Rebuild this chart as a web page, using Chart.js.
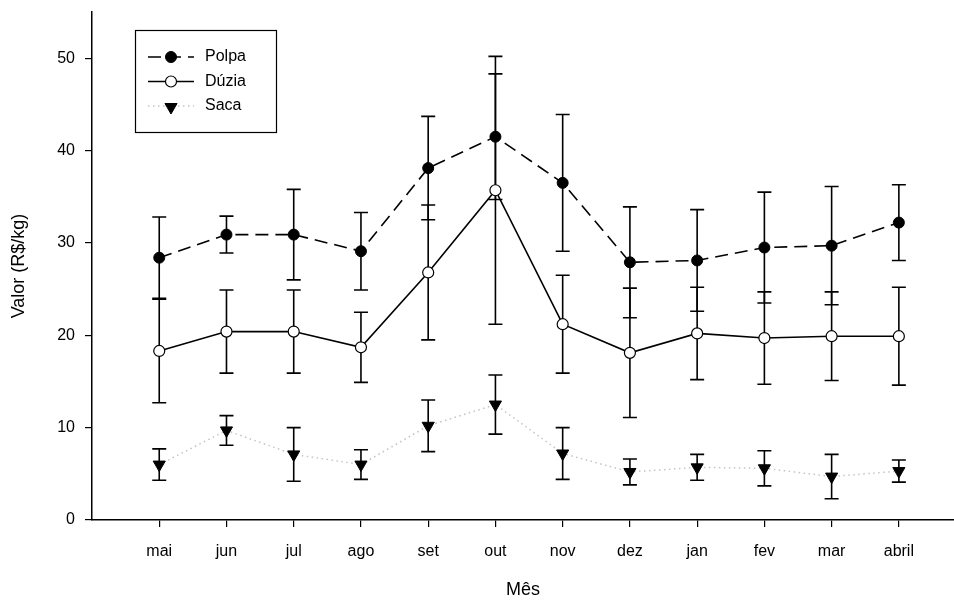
<!DOCTYPE html>
<html>
<head>
<meta charset="utf-8">
<script src="https://cdn.jsdelivr.net/npm/chart.js@4.4.0/dist/chart.umd.min.js"></script>
<style>
html, body { margin: 0; padding: 0; background: #fff; overflow: hidden; }
canvas { display: block; }
</style>
</head>
<body>
<canvas id="graph" width="954" height="601"></canvas>
<script>
// dados (média e erro padrão)
const meses = ["mai", "jun", "jul", "ago", "set", "out", "nov", "dez", "jan", "fev", "mar", "abril"];
const polpa = [28.4, 30.9, 30.9, 29.1, 38.1, 41.5, 36.5, 27.9, 28.1, 29.5, 29.7, 32.2];
const polpaErro = [4.4, 2.0, 4.9, 4.2, 5.6, 6.8, 7.4, 6.0, 5.5, 6.0, 6.4, 4.1];
const duzia = [18.3, 20.4, 20.4, 18.7, 26.8, 35.7, 21.2, 18.1, 20.2, 19.7, 19.9, 19.9];
const duziaErro = [5.6, 4.5, 4.5, 3.8, 7.3, 14.5, 5.3, 7.0, 5.0, 5.0, 4.8, 5.3];
const saca = [6.0, 9.7, 7.1, 6.0, 10.2, 12.5, 7.2, 5.2, 5.7, 5.6, 4.7, 5.3];
const sacaErro = [1.7, 1.6, 2.9, 1.6, 2.8, 3.2, 2.8, 1.4, 1.4, 1.9, 2.4, 1.2];
const yTicks = [0, 10, 20, 30, 40, 50];

Chart.defaults.font.family = "'Liberation Sans', Arial, sans-serif";
Chart.defaults.color = '#000';

const pontos = arr => arr.map((v, i) => ({ x: i, y: v }));

// barras de erro
const errorBars = {
    id: 'errorBars',
    beforeDatasetsDraw(chart) {
        const ctx = chart.ctx;
        const ys = chart.scales.y;
        chart.data.datasets.forEach((ds, i) => {
            const meta = chart.getDatasetMeta(i);
            meta.data.forEach((pt, j) => {
                const v = ds.data[j].y, e = ds.errors[j];
                const top = ys.getPixelForValue(v + e);
                const bot = ys.getPixelForValue(v - e);
                ctx.save();
                ctx.strokeStyle = '#000';
                ctx.lineWidth = 1.6;
                ctx.beginPath();
                ctx.moveTo(pt.x, top); ctx.lineTo(pt.x, bot);
                ctx.moveTo(pt.x - 7, top); ctx.lineTo(pt.x + 7, top);
                ctx.moveTo(pt.x - 7, bot); ctx.lineTo(pt.x + 7, bot);
                ctx.stroke();
                ctx.restore();
            });
        });
    }
};

// legenda com caixa, dentro do gráfico
const boxLegend = {
    id: 'boxLegend',
    afterDraw(chart) {
        const ctx = chart.ctx;
        ctx.save();
        ctx.strokeStyle = '#000';
        ctx.lineWidth = 1.2;
        ctx.strokeRect(135.5, 30.5, 141, 102);
        chart.data.datasets.forEach((ds, i) => {
            const y = 57 + i * 24.5;
            ctx.save();
            ctx.strokeStyle = ds.borderColor;
            ctx.lineWidth = ds.borderWidth;
            ctx.setLineDash(ds.borderDash || []);
            ctx.beginPath();
            ctx.moveTo(148, y); ctx.lineTo(194, y);
            ctx.stroke();
            ctx.restore();
            ctx.save();
            ctx.fillStyle = ds.pointBackgroundColor;
            ctx.strokeStyle = ds.pointBorderColor;
            ctx.lineWidth = ds.pointBorderWidth;
            Chart.helpers.drawPoint(ctx, {
                pointStyle: ds.pointStyle,
                rotation: ds.pointRotation || 0,
                radius: ds.pointRadius,
                borderWidth: ds.pointBorderWidth
            }, 171, y + (ds.pointStyle === 'triangle' ? 1 : 0));
            ctx.restore();
            ctx.fillStyle = '#000';
            ctx.font = "16px 'Liberation Sans', Arial, sans-serif";
            ctx.textBaseline = 'middle';
            ctx.fillText(ds.label, 205, y);
        });
        ctx.restore();
    }
};

new Chart(document.getElementById('graph'), {
    type: 'line',
    data: {
        datasets: [
            {
                label: 'Polpa',
                data: pontos(polpa),
                errors: polpaErro,
                borderColor: '#000',
                borderWidth: 1.6,
                borderDash: [13, 7],
                pointStyle: 'circle',
                pointRadius: 5.5,
                pointBackgroundColor: '#000',
                pointBorderColor: '#000',
                pointBorderWidth: 1,
            },
            {
                label: 'Dúzia',
                data: pontos(duzia),
                errors: duziaErro,
                borderColor: '#000',
                borderWidth: 1.6,
                pointStyle: 'circle',
                pointRadius: 5.5,
                pointBackgroundColor: '#fff',
                pointBorderColor: '#000',
                pointBorderWidth: 1.2,
            },
            {
                label: 'Saca',
                data: pontos(saca),
                errors: sacaErro,
                borderColor: '#c4c4c4',
                borderWidth: 1.5,
                borderDash: [1.5, 3.5],
                pointStyle: 'triangle',
                pointRotation: 180,
                pointRadius: 7,
                pointBackgroundColor: '#000',
                pointBorderColor: '#000',
                pointBorderWidth: 1,
            },
        ],
    },
    options: {
        responsive: false,
        animation: false,
        events: [],
        layout: { autoPadding: false, padding: { top: 12, right: 0, left: 0, bottom: 0 } },
        plugins: { legend: { display: false }, tooltip: { enabled: false } },
        scales: {
            x: {
                type: 'linear',
                min: -1,
                max: 11.82,
                afterFit: s => { s.height = 81; s.paddingLeft = 0; s.paddingRight = 0; },
                afterBuildTicks: s => { s.ticks = meses.map((m, i) => ({ value: i })); },
                grid: { display: true, drawOnChartArea: false, drawTicks: true, tickLength: 7, color: '#000', lineWidth: 1.2 },
                border: { color: '#000', width: 1.5 },
                ticks: {
                    padding: 15,
                    font: { size: 16 },
                    callback: v => meses[v],
                    maxRotation: 0,
                    autoSkip: false,
                },
                title: { display: true, text: 'Mês', font: { size: 18 }, padding: { top: 0, bottom: 0 } },
            },
            y: {
                min: 0,
                max: 55,
                afterFit: s => { s.width = 92; s.paddingTop = 0; s.paddingBottom = 0; },
                afterBuildTicks: s => { s.ticks = yTicks.map(v => ({ value: v })); },
                grid: { display: true, drawOnChartArea: false, drawTicks: true, tickLength: 7, color: '#000', lineWidth: 1.2 },
                border: { color: '#000', width: 1.5 },
                ticks: { padding: 10, font: { size: 16 } },
                title: { display: true, text: 'Valor (R$/kg)', font: { size: 18 }, padding: { top: 8, bottom: 0 } },
            },
        },
    },
    plugins: [errorBars, boxLegend],
});
</script>
</body>
</html>
